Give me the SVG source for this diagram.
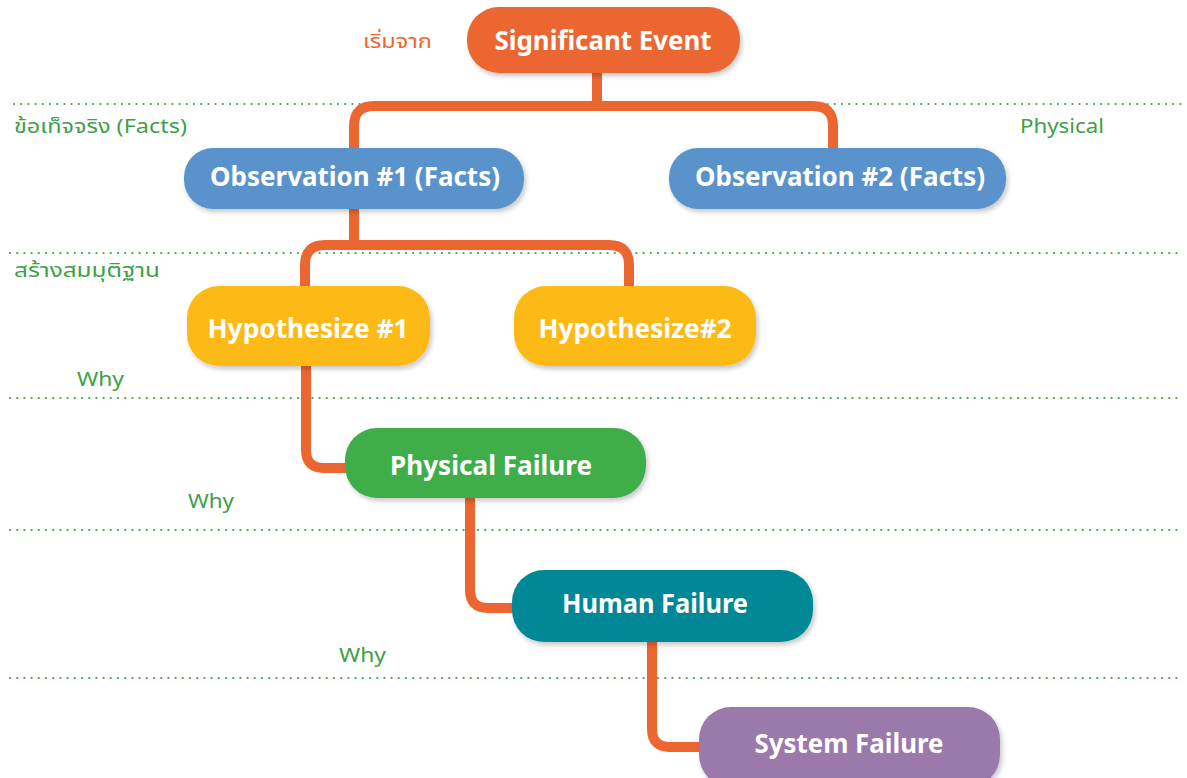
<svg xmlns="http://www.w3.org/2000/svg" width="1187" height="778" viewBox="0 0 1187 778">
<style>
.dot{stroke:#3E9F47;stroke-width:2.2;stroke-dasharray:0 7.2;stroke-linecap:round;fill:none}
.con{stroke:#EC6631;stroke-width:10;fill:none;stroke-linejoin:round}
.nt{font-family:"Noto Sans","Noto Sans Thai","DejaVu Sans",sans-serif;font-weight:bold;font-size:26px;fill:#ffffff;text-anchor:middle}
.lb{font-family:"Noto Sans","Noto Sans Thai","DejaVu Sans",sans-serif;font-size:20px;fill:#3E9F47}
</style>
<defs>
<filter id="sh" x="-10%" y="-20%" width="120%" height="150%">
<feDropShadow dx="2" dy="3" stdDeviation="2.5" flood-color="#000" flood-opacity="0.22"/>
</filter>
</defs>
<g id="guides">
<line class="dot" x1="14" y1="104" x2="1183" y2="104"/>
<line class="dot" x1="10" y1="253" x2="1183" y2="253"/>
<line class="dot" x1="10" y1="398" x2="1183" y2="398"/>
<line class="dot" x1="10" y1="530" x2="1183" y2="530"/>
<line class="dot" x1="10" y1="678" x2="1183" y2="678"/>
</g>
<g id="labels">
<text class="lb" x="363" y="48" fill="#EC6631" style="fill:#EC6631" textLength="69" lengthAdjust="spacingAndGlyphs">เริ่มจาก</text>
<text class="lb" x="14" y="133" textLength="173" lengthAdjust="spacingAndGlyphs">ข้อเท็จจริง (Facts)</text>
<text class="lb" x="1020" y="133" textLength="84" lengthAdjust="spacingAndGlyphs">Physical</text>
<text class="lb" x="14" y="277" textLength="146" lengthAdjust="spacingAndGlyphs">สร้างสมมุติฐาน</text>
<text class="lb" x="77" y="386" textLength="47" lengthAdjust="spacingAndGlyphs">Why</text>
<text class="lb" x="188" y="508" textLength="46" lengthAdjust="spacingAndGlyphs">Why</text>
<text class="lb" x="339" y="662" textLength="47" lengthAdjust="spacingAndGlyphs">Why</text>
</g>
<g id="connectors">
<path class="con" d="M597,73 V106"/>
<path class="con" d="M354,148 V126 Q354,106 374,106 H813 Q833,106 833,126 V148"/>
<path class="con" d="M354,209 V245"/>
<path class="con" d="M305,287 V265 Q305,245 325,245 H609 Q629,245 629,265 V287"/>
<path class="con" d="M306,365 V450 Q306,468 324,468 H346"/>
<path class="con" d="M470,498 V590 Q470,608 488,608 H513"/>
<path class="con" d="M652,642 V729 Q652,747 670,747 H700"/>
</g>
<g id="n-significant">
<rect x="467" y="7" width="273" height="66" rx="32" fill="#EC6631" filter="url(#sh)"/>
<text class="nt" x="603" y="50" textLength="217" lengthAdjust="spacingAndGlyphs">Significant Event</text>
</g>
<g id="n-obs1">
<rect x="184" y="148" width="340" height="61" rx="29" fill="#5A93CC" filter="url(#sh)"/>
<text class="nt" x="355" y="186" textLength="290" lengthAdjust="spacingAndGlyphs">Observation #1 (Facts)</text>
</g>
<g id="n-obs2">
<rect x="669" y="148" width="337" height="61" rx="29" fill="#5A93CC" filter="url(#sh)"/>
<text class="nt" x="840" y="186" textLength="290" lengthAdjust="spacingAndGlyphs">Observation #2 (Facts)</text>
</g>
<g id="n-hyp1">
<rect x="187" y="286" width="243" height="80" rx="32" fill="#FDBA16" filter="url(#sh)"/>
<text class="nt" x="308" y="338" textLength="201" lengthAdjust="spacingAndGlyphs">Hypothesize #1</text>
</g>
<g id="n-hyp2">
<rect x="514" y="286" width="242" height="80" rx="32" fill="#FDBA16" filter="url(#sh)"/>
<text class="nt" x="635" y="338" textLength="193" lengthAdjust="spacingAndGlyphs">Hypothesize#2</text>
</g>
<g id="n-physical">
<rect x="345" y="428" width="301" height="70" rx="32" fill="#41AD4C" filter="url(#sh)"/>
<text class="nt" x="491" y="475" textLength="202" lengthAdjust="spacingAndGlyphs">Physical Failure</text>
</g>
<g id="n-human">
<rect x="512" y="570" width="301" height="72" rx="32" fill="#008896" filter="url(#sh)"/>
<text class="nt" x="655" y="613" textLength="186" lengthAdjust="spacingAndGlyphs">Human Failure</text>
</g>
<g id="n-system">
<rect x="699" y="707" width="301" height="80" rx="32" fill="#9B7AAB" filter="url(#sh)"/>
<text class="nt" x="849" y="753" textLength="189" lengthAdjust="spacingAndGlyphs">System Failure</text>
</g>
</svg>
